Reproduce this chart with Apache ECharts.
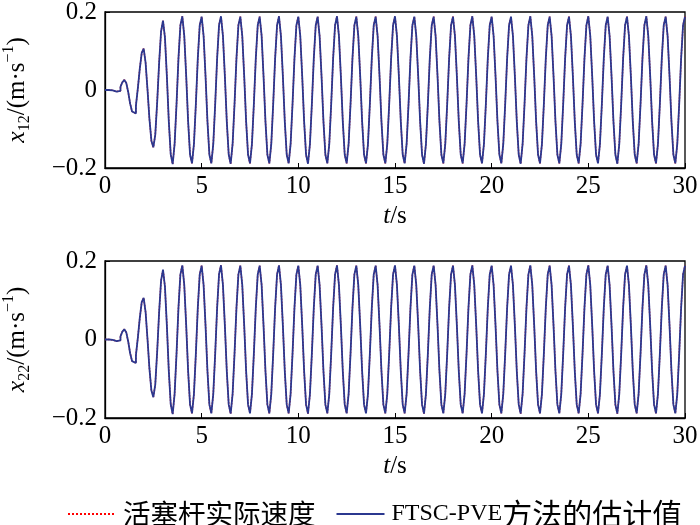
<!DOCTYPE html>
<html>
<head>
<meta charset="utf-8">
<script src="https://cdn.jsdelivr.net/npm/echarts@6/dist/echarts.min.js"></script>
<style>html,body{margin:0;padding:0;background:#fff}#c{width:700px;height:525px}</style>
</head>
<body>
<div id="c"></div>
<script>
// sample times (s)
const timeS = [
0,0.1,0.2,0.3,0.4,0.5,0.6,0.7,0.8,0.9,
1,1.1,1.2,1.3,1.4,1.5,1.6,1.7,1.8,1.9,
2,2.1,2.2,2.3,2.4,2.5,2.6,2.7,2.8,2.9,
3,3.1,3.2,3.3,3.4,3.5,3.6,3.7,3.8,3.9,
4,4.1,4.2,4.3,4.4,4.5,4.6,4.7,4.8,4.9,
5,5.1,5.2,5.3,5.4,5.5,5.6,5.7,5.8,5.9,
6,6.1,6.2,6.3,6.4,6.5,6.6,6.7,6.8,6.9,
7,7.1,7.2,7.3,7.4,7.5,7.6,7.7,7.8,7.9,
8,8.1,8.2,8.3,8.4,8.5,8.6,8.7,8.8,8.9,
9,9.1,9.2,9.3,9.4,9.5,9.6,9.7,9.8,9.9,
10,10.1,10.2,10.3,10.4,10.5,10.6,10.7,10.8,10.9,
11,11.1,11.2,11.3,11.4,11.5,11.6,11.7,11.8,11.9,
12,12.1,12.2,12.3,12.4,12.5,12.6,12.7,12.8,12.9,
13,13.1,13.2,13.3,13.4,13.5,13.6,13.7,13.8,13.9,
14,14.1,14.2,14.3,14.4,14.5,14.6,14.7,14.8,14.9,
15,15.1,15.2,15.3,15.4,15.5,15.6,15.7,15.8,15.9,
16,16.1,16.2,16.3,16.4,16.5,16.6,16.7,16.8,16.9,
17,17.1,17.2,17.3,17.4,17.5,17.6,17.7,17.8,17.9,
18,18.1,18.2,18.3,18.4,18.5,18.6,18.7,18.8,18.9,
19,19.1,19.2,19.3,19.4,19.5,19.6,19.7,19.8,19.9,
20,20.1,20.2,20.3,20.4,20.5,20.6,20.7,20.8,20.9,
21,21.1,21.2,21.3,21.4,21.5,21.6,21.7,21.8,21.9,
22,22.1,22.2,22.3,22.4,22.5,22.6,22.7,22.8,22.9,
23,23.1,23.2,23.3,23.4,23.5,23.6,23.7,23.8,23.9,
24,24.1,24.2,24.3,24.4,24.5,24.6,24.7,24.8,24.9,
25,25.1,25.2,25.3,25.4,25.5,25.6,25.7,25.8,25.9,
26,26.1,26.2,26.3,26.4,26.5,26.6,26.7,26.8,26.9,
27,27.1,27.2,27.3,27.4,27.5,27.6,27.7,27.8,27.9,
28,28.1,28.2,28.3,28.4,28.5,28.6,28.7,28.8,28.9,
29,29.1,29.2,29.3,29.4,29.5,29.6,29.7,29.8,29.9,
30];

// x12 velocity (m/s)
const x12Speed = [
0,0,0,-0.001,-0.003,-0.004,-0.004,-0.002,0.008,0.02,
0.026,0.018,-0.005,-0.035,-0.055,-0.06,-0.04,0.005,0.055,0.095,
0.106,0.07,0.0,-0.075,-0.13,-0.147,-0.115,-0.03,0.07,0.15,
0.178,0.135,0.036,-0.08,-0.165,-0.19,-0.139,-0.036,0.081,0.166,
0.189,0.139,0.036,-0.081,-0.166,-0.188,-0.139,-0.036,0.081,0.166,
0.188,0.139,0.036,-0.081,-0.166,-0.188,-0.139,-0.036,0.081,0.167,
0.189,0.139,0.036,-0.081,-0.166,-0.189,-0.139,-0.036,0.081,0.166,
0.188,0.139,0.036,-0.081,-0.166,-0.188,-0.139,-0.036,0.081,0.166,
0.188,0.140,0.036,-0.081,-0.166,-0.188,-0.139,-0.036,0.081,0.166,
0.189,0.139,0.036,-0.081,-0.166,-0.188,-0.139,-0.036,0.081,0.166,
0.188,0.139,0.036,-0.081,-0.166,-0.189,-0.139,-0.036,0.081,0.166,
0.188,0.139,0.036,-0.081,-0.166,-0.188,-0.139,-0.036,0.081,0.166,
0.189,0.139,0.036,-0.081,-0.166,-0.188,-0.139,-0.036,0.081,0.166,
0.188,0.139,0.036,-0.081,-0.166,-0.188,-0.140,-0.036,0.081,0.166,
0.188,0.139,0.036,-0.081,-0.166,-0.188,-0.139,-0.036,0.081,0.166,
0.189,0.139,0.036,-0.081,-0.166,-0.188,-0.139,-0.036,0.081,0.166,
0.188,0.139,0.036,-0.081,-0.166,-0.189,-0.139,-0.036,0.081,0.166,
0.188,0.139,0.036,-0.081,-0.166,-0.188,-0.139,-0.036,0.081,0.166,
0.188,0.139,0.036,-0.081,-0.166,-0.188,-0.139,-0.036,0.081,0.166,
0.189,0.139,0.036,-0.081,-0.166,-0.188,-0.139,-0.036,0.081,0.166,
0.188,0.139,0.036,-0.081,-0.166,-0.188,-0.139,-0.036,0.081,0.166,
0.188,0.139,0.036,-0.081,-0.166,-0.189,-0.139,-0.036,0.081,0.166,
0.189,0.139,0.036,-0.081,-0.166,-0.188,-0.139,-0.036,0.081,0.166,
0.188,0.139,0.036,-0.081,-0.166,-0.188,-0.139,-0.036,0.081,0.166,
0.188,0.139,0.036,-0.081,-0.166,-0.188,-0.139,-0.036,0.081,0.166,
0.189,0.139,0.036,-0.081,-0.166,-0.188,-0.139,-0.036,0.081,0.166,
0.188,0.139,0.036,-0.081,-0.166,-0.189,-0.139,-0.036,0.081,0.166,
0.188,0.139,0.036,-0.081,-0.166,-0.188,-0.139,-0.036,0.081,0.166,
0.189,0.139,0.036,-0.081,-0.166,-0.188,-0.139,-0.036,0.081,0.166,
0.188,0.139,0.036,-0.081,-0.166,-0.188,-0.139,-0.036,0.081,0.166,
0.188];

// x22 velocity: the lower panel shows the same trace
const x22Speed = x12Speed;

const xTicks = [0, 30, 5];          // min, max, interval
const yTicks = [-0.2, 0.2, 0.2];
const seriesNames = ['活塞杆实际速度', 'FTSC-PVE方法的估计值'];

const pairs = arr => timeS.map((t, i) => [t, arr[i]]);

const serif = '"Liberation Serif","Times New Roman",serif';
const cjk = '"Noto Sans CJK SC",sans-serif';
const axisColor = '#000';
const blue = '#2B388F';

function xAxisCfg(gi) {
  return {
    gridIndex: gi, type: 'value', min: xTicks[0], max: xTicks[1], interval: xTicks[2],
    axisLine: { onZero: false, lineStyle: { color: axisColor, width: 1.3 } },
    axisTick: { inside: true, length: 5, lineStyle: { color: axisColor } },
    axisLabel: { color: '#000', fontFamily: serif, fontSize: 25, margin: 6 },
    splitLine: { show: false },
    name: '{i|t}{n|/s}', nameLocation: 'middle', nameGap: 36,
    nameTextStyle: { rich: {
      i: { fontFamily: serif, fontStyle: 'italic', fontSize: 25, color: '#000' },
      n: { fontFamily: serif, fontSize: 25, color: '#000' } } }
  };
}
function yAxisCfg(gi, sub) {
  return {
    gridIndex: gi, type: 'value', min: yTicks[0], max: yTicks[1], interval: yTicks[2],
    axisLine: { onZero: false, lineStyle: { color: axisColor, width: 1.3 } },
    axisTick: { inside: true, length: 5, lineStyle: { color: axisColor } },
    axisLabel: { color: '#000', fontFamily: serif, fontSize: 25, margin: 8,
      formatter: v => v === 0 ? '0' : (v < 0 ? '\u2212' : '') + Math.abs(v).toFixed(1) },
    splitLine: { show: false },
    name: '{i|x}{s|' + sub + '}{n|/(m·s}{p|\u22121}{n|)}',
    nameLocation: 'middle', nameRotate: 90, nameGap: 72,
    nameTextStyle: { rich: {
      i: { fontFamily: serif, fontStyle: 'italic', fontSize: 26, lineHeight: 32, color: '#000' },
      n: { fontFamily: serif, fontSize: 25, lineHeight: 32, color: '#000' },
      s: { fontFamily: serif, fontSize: 16, lineHeight: 32, verticalAlign: 'bottom', color: '#000' },
      p: { fontFamily: serif, fontSize: 16, lineHeight: 32, verticalAlign: 'top', color: '#000' } } }
  };
}
function seriesPair(gi, arr) {
  const d = pairs(arr);
  return [
    { name: seriesNames[0], type: 'line', xAxisIndex: gi, yAxisIndex: gi, data: d, step: 'end',
      showSymbol: false, symbol: 'none', animation: false,
      lineStyle: { color: '#FF0000', width: 1.5, type: 'dotted' }, itemStyle: { color: '#FF0000' } },
    { name: seriesNames[1], type: 'line', xAxisIndex: gi, yAxisIndex: gi, data: d, step: 'end',
      showSymbol: false, symbol: 'none', animation: false,
      lineStyle: { color: blue, width: 1.8 }, itemStyle: { color: blue } }
  ];
}

const gridBase = { left: 105, right: 15, show: true, borderColor: '#000', borderWidth: 1.3,
  containLabel: false, outerBoundsMode: 'none' };

const chart = echarts.init(document.getElementById('c'), null, { renderer: 'canvas' });
chart.setOption({
  backgroundColor: '#fff',
  animation: false,
  grid: [
    Object.assign({ top: 12, height: 156 }, gridBase),
    Object.assign({ top: 261, height: 157 }, gridBase)
  ],
  xAxis: [xAxisCfg(0), xAxisCfg(1)],
  yAxis: [yAxisCfg(0, '12'), yAxisCfg(1, '22')],
  legend: {
    data: seriesNames, left: 62, top: 494, itemWidth: 48, itemHeight: 10, itemGap: 20,
    itemStyle: { opacity: 0 },
    formatter: name => name === seriesNames[0] ? '{c|' + name + '}' : '{l|FTSC-PVE}{d|方法的估计值}',
    textStyle: { padding: [0, 0, 0, 2], rich: {
      c: { fontFamily: cjk, fontSize: 27.5, color: '#000' },
      d: { fontFamily: cjk, fontSize: 30, color: '#000' },
      l: { fontFamily: serif, fontSize: 24, color: '#000' } } }
  },
  series: [...seriesPair(0, x12Speed), ...seriesPair(1, x22Speed)]
});
</script>
</body>
</html>
